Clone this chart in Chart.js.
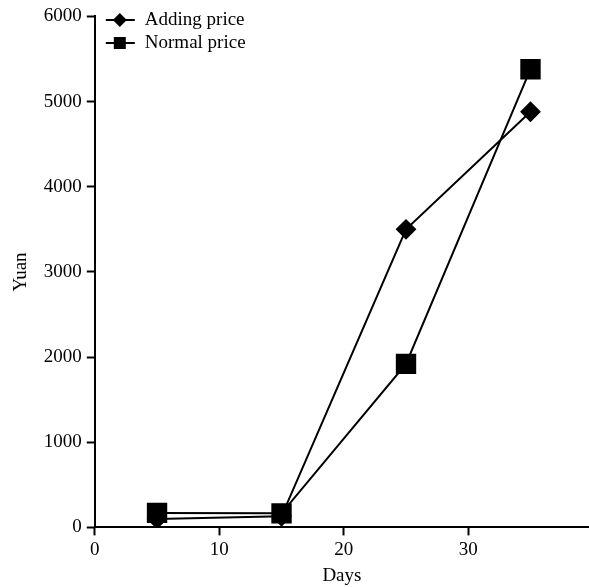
<!DOCTYPE html>
<html>
<head>
<meta charset="utf-8">
<script src="https://cdn.jsdelivr.net/npm/chart.js@4"></script>
<style>
  body { margin: 0; background: #fff; }
  canvas { display: block; }
</style>
</head>
<body>
<canvas id="chart" width="589" height="587"></canvas>
<script>
const days = [5, 15, 25, 35];
const addingPrice = [100, 130, 3500, 4880];
const normalPrice = [170, 165, 1920, 5380];
const xTicks = [0, 10, 20, 30];
const yTicks = [0, 1000, 2000, 3000, 4000, 5000, 6000];

const font = { family: 'Liberation Serif', size: 19 };

// legend drawn inside the plot, line + marker like the original
const innerLegend = {
    id: 'innerLegend',
    afterDraw(chart) {
        const ctx = chart.ctx;
        const left = chart.chartArea.left + 11;
        ctx.save();
        chart.data.datasets.forEach((ds, i) => {
            const y = 20 + i * 23;
            ctx.strokeStyle = '#000';
            ctx.lineWidth = 2;
            ctx.beginPath();
            ctx.moveTo(left, y);
            ctx.lineTo(left + 29, y);
            ctx.stroke();
            ctx.fillStyle = '#000';
            ctx.beginPath();
            if (ds.pointStyle === 'rectRot') {
                ctx.moveTo(left + 14 - 7, y);
                ctx.lineTo(left + 14, y - 7);
                ctx.lineTo(left + 14 + 7, y);
                ctx.lineTo(left + 14, y + 7);
                ctx.closePath();
            } else {
                ctx.rect(left + 14 - 6, y - 6, 12, 12);
            }
            ctx.fill();
            ctx.font = '19px "Liberation Serif"';
            ctx.textBaseline = 'middle';
            ctx.fillText(ds.label, left + 39, y);
        });
        ctx.restore();
    }
};

new Chart(document.getElementById('chart').getContext('2d'), {
    type: 'line',
    data: {
        datasets: [{
            label: 'Adding price',
            data: days.map((d, i) => ({ x: d, y: addingPrice[i] })),
            borderColor: '#000',
            backgroundColor: '#000',
            borderWidth: 2,
            pointStyle: 'rectRot',
            pointRadius: 9,
            pointHoverRadius: 9,
            tension: 0
        }, {
            label: 'Normal price',
            data: days.map((d, i) => ({ x: d, y: normalPrice[i] })),
            borderColor: '#000',
            backgroundColor: '#000',
            borderWidth: 2,
            pointStyle: 'rect',
            pointRadius: 13,
            pointHoverRadius: 13,
            tension: 0
        }]
    },
    options: {
        responsive: false,
        animation: false,
        layout: { autoPadding: false, padding: { top: 14, right: 0, left: 4, bottom: 0 } },
        scales: {
            x: {
                type: 'linear',
                min: 0,
                max: 39.7,
                afterBuildTicks: axis => { axis.ticks = xTicks.map(v => ({ value: v })); },
                ticks: { color: '#000', font: font, padding: 3, maxRotation: 0 },
                grid: { drawOnChartArea: false, tickLength: 8, tickColor: '#000', tickWidth: 2 },
                border: { color: '#000', width: 2 },
                title: { display: true, text: 'Days', color: '#000', font: font, padding: 0 }
            },
            y: {
                min: 0,
                max: 6000,
                afterBuildTicks: axis => { axis.ticks = yTicks.map(v => ({ value: v })); },
                ticks: { color: '#000', font: font, padding: 5, callback: v => String(v) },
                grid: { drawOnChartArea: false, tickLength: 8, tickColor: '#000', tickWidth: 2 },
                border: { color: '#000', width: 2 },
                title: { display: true, text: 'Yuan', color: '#000', font: font, padding: 6 }
            }
        },
        plugins: {
            legend: { display: false },
            tooltip: { enabled: false }
        }
    },
    plugins: [innerLegend]
});
</script>
</body>
</html>
